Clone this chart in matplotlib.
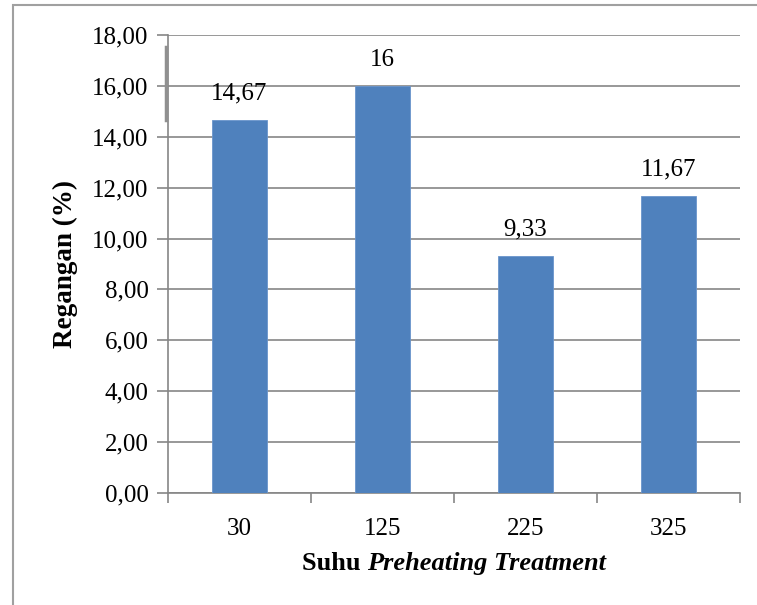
import matplotlib
matplotlib.use("Agg")
import matplotlib.pyplot as plt
from matplotlib.patches import Rectangle
from matplotlib.lines import Line2D

categories = ["30", "125", "225", "325"]
values = [14.67, 16.0, 9.33, 11.67]
value_labels = ["14,67", "16", "9,33", "11,67"]
yticks = [0, 2, 4, 6, 8, 10, 12, 14, 16, 18]
ytick_labels = ["0,00", "2,00", "4,00", "6,00", "8,00", "10,00", "12,00", "14,00", "16,00", "18,00"]

W, H = 757, 605
plt.rcParams["font.family"] = ["Liberation Serif", "DejaVu Serif"]
fig = plt.figure(figsize=(W / 100, H / 100), dpi=100)

# axes placement in pixels
left, right, top, bottom = 168, 740, 35, 493
ax = fig.add_axes([left / W, 1 - bottom / H, (right - left) / W, (bottom - top) / H])

grid_c = "#868686"
x = list(range(len(categories)))
ax.bar(x, values, width=0.385, color="#4F81BD", edgecolor="#6A95CC", linewidth=0.6, zorder=3)

ax.set_xlim(-0.5, len(categories) - 0.5)
ax.set_ylim(0, 18)
ax.set_yticks(yticks)
ax.set_yticklabels(ytick_labels, fontsize=18)
ax.yaxis.grid(True, color=grid_c, linewidth=1.2, zorder=0)
ax.set_axisbelow(True)

ax.set_xticks(x)
ax.set_xticklabels(categories, fontsize=18)
ax.tick_params(axis="x", length=0, pad=18)
ax.set_xticks([i - 0.5 for i in range(len(categories) + 1)], minor=True)
ax.tick_params(axis="x", which="minor", length=7, width=1.2, color=grid_c, direction="out")
ax.tick_params(axis="y", length=8, width=1.2, color=grid_c, direction="out", pad=6)

for s in ["top", "right"]:
    ax.spines[s].set_visible(False)
for s in ["left", "bottom"]:
    ax.spines[s].set_color(grid_c)
    ax.spines[s].set_linewidth(1.2)

for xi, v, lab in zip(x, values, value_labels):
    ax.annotate(lab, (xi, v), xytext=(0, 11), textcoords="offset points",
                ha="center", va="bottom", fontsize=18, zorder=5)

ax.set_ylabel("Regangan (%)", fontsize=19.5, fontweight="bold", labelpad=10)

# x label: "Suhu" bold + "Preheating Treatment" bold italic, centered
fig.canvas.draw()
r = fig.canvas.get_renderer()
yb = 1 - 570 / H
t1 = fig.text(0, yb, "Suhu ", fontsize=19, fontweight="bold", ha="left", va="baseline")
t2 = fig.text(0, yb, "Preheating Treatment", fontsize=19, fontweight="bold", style="italic",
              ha="left", va="baseline")
w1 = t1.get_window_extent(r).width
w2 = t2.get_window_extent(r).width
cx = (left + right) / 2
x0 = cx - (w1 + w2) / 2
t1.set_x(x0 / W)
t2.set_x((x0 + w1) / W)

# outer border of the chart area
fig.patches.append(Rectangle((13 / W, -0.01), 1.0, 1 - 5 / H + 0.01, transform=fig.transFigure,
                             fill=False, edgecolor="#A0A0A0", linewidth=1.5))
# small vertical artifact near the axis top
fig.lines.append(Line2D([166 / W, 166 / W], [1 - 47 / H, 1 - 120 / H], transform=fig.transFigure,
                        color="#909090", linewidth=2.5))

fig.savefig("out.png", dpi=100)
